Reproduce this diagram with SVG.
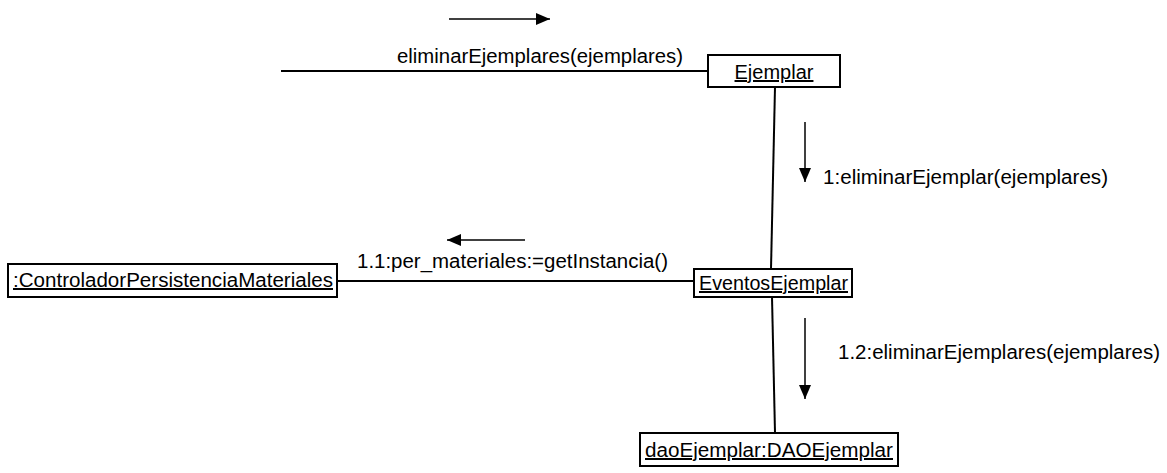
<svg xmlns="http://www.w3.org/2000/svg" width="1167" height="473" viewBox="0 0 1167 473">
  <style>
    .box { fill: #fff; stroke: #000; stroke-width: 2; }
    .link { stroke: #000; stroke-width: 2; fill: none; }
    .msg { stroke: #000; stroke-width: 1.5; fill: none; }
    text { font-family: "Liberation Sans", Arial, sans-serif; font-size: 20px; fill: #000; }
    .name { text-decoration: underline; }
  </style>
  <defs>
    <marker id="head" viewBox="0 0 14 12" refX="14" refY="6" markerWidth="14" markerHeight="12" markerUnits="userSpaceOnUse" orient="auto">
      <path d="M0,0 L14,6 L0,12 Z" fill="#000"/>
    </marker>
  </defs>

  <!-- links between objects -->
  <g id="connectors">
    <line class="link" x1="281" y1="71" x2="708" y2="71"/>
    <line class="link" x1="775" y1="87" x2="771" y2="269"/>
    <line class="link" x1="337" y1="281" x2="694" y2="281"/>
    <line class="link" x1="772" y1="297" x2="775" y2="433"/>
  </g>

  <!-- message arrows and labels -->
  <g id="messages">
    <line class="msg" x1="449" y1="19" x2="550" y2="19" marker-end="url(#head)"/>
    <text x="397" y="63" textLength="286" lengthAdjust="spacingAndGlyphs">eliminarEjemplares(ejemplares)</text>

    <line class="msg" x1="805" y1="122" x2="805" y2="182" marker-end="url(#head)"/>
    <text x="823" y="184" textLength="285" lengthAdjust="spacingAndGlyphs">1:eliminarEjemplar(ejemplares)</text>

    <line class="msg" x1="525" y1="240" x2="447" y2="240" marker-end="url(#head)"/>
    <text x="357" y="268" textLength="311" lengthAdjust="spacingAndGlyphs">1.1:per_materiales:=getInstancia()</text>

    <line class="msg" x1="805" y1="318" x2="805" y2="399" marker-end="url(#head)"/>
    <text x="838" y="359" textLength="322" lengthAdjust="spacingAndGlyphs">1.2:eliminarEjemplares(ejemplares)</text>
  </g>

  <g id="ejemplar">
    <rect class="box" x="708" y="55" width="132" height="32"/>
    <text class="name" x="774" y="79" text-anchor="middle">Ejemplar</text>
  </g>

  <g id="controlador">
    <rect class="box" x="8" y="264" width="329" height="33"/>
    <text class="name" x="13" y="287" textLength="320" lengthAdjust="spacingAndGlyphs">:ControladorPersistenciaMateriales</text>
  </g>

  <g id="eventos">
    <rect class="box" x="694" y="269" width="158" height="28"/>
    <text class="name" x="699" y="290" textLength="149" lengthAdjust="spacingAndGlyphs">EventosEjemplar</text>
  </g>

  <g id="dao">
    <rect class="box" x="640" y="433" width="258" height="33"/>
    <text class="name" x="645" y="457" textLength="248" lengthAdjust="spacingAndGlyphs">daoEjemplar:DAOEjemplar</text>
  </g>
</svg>
